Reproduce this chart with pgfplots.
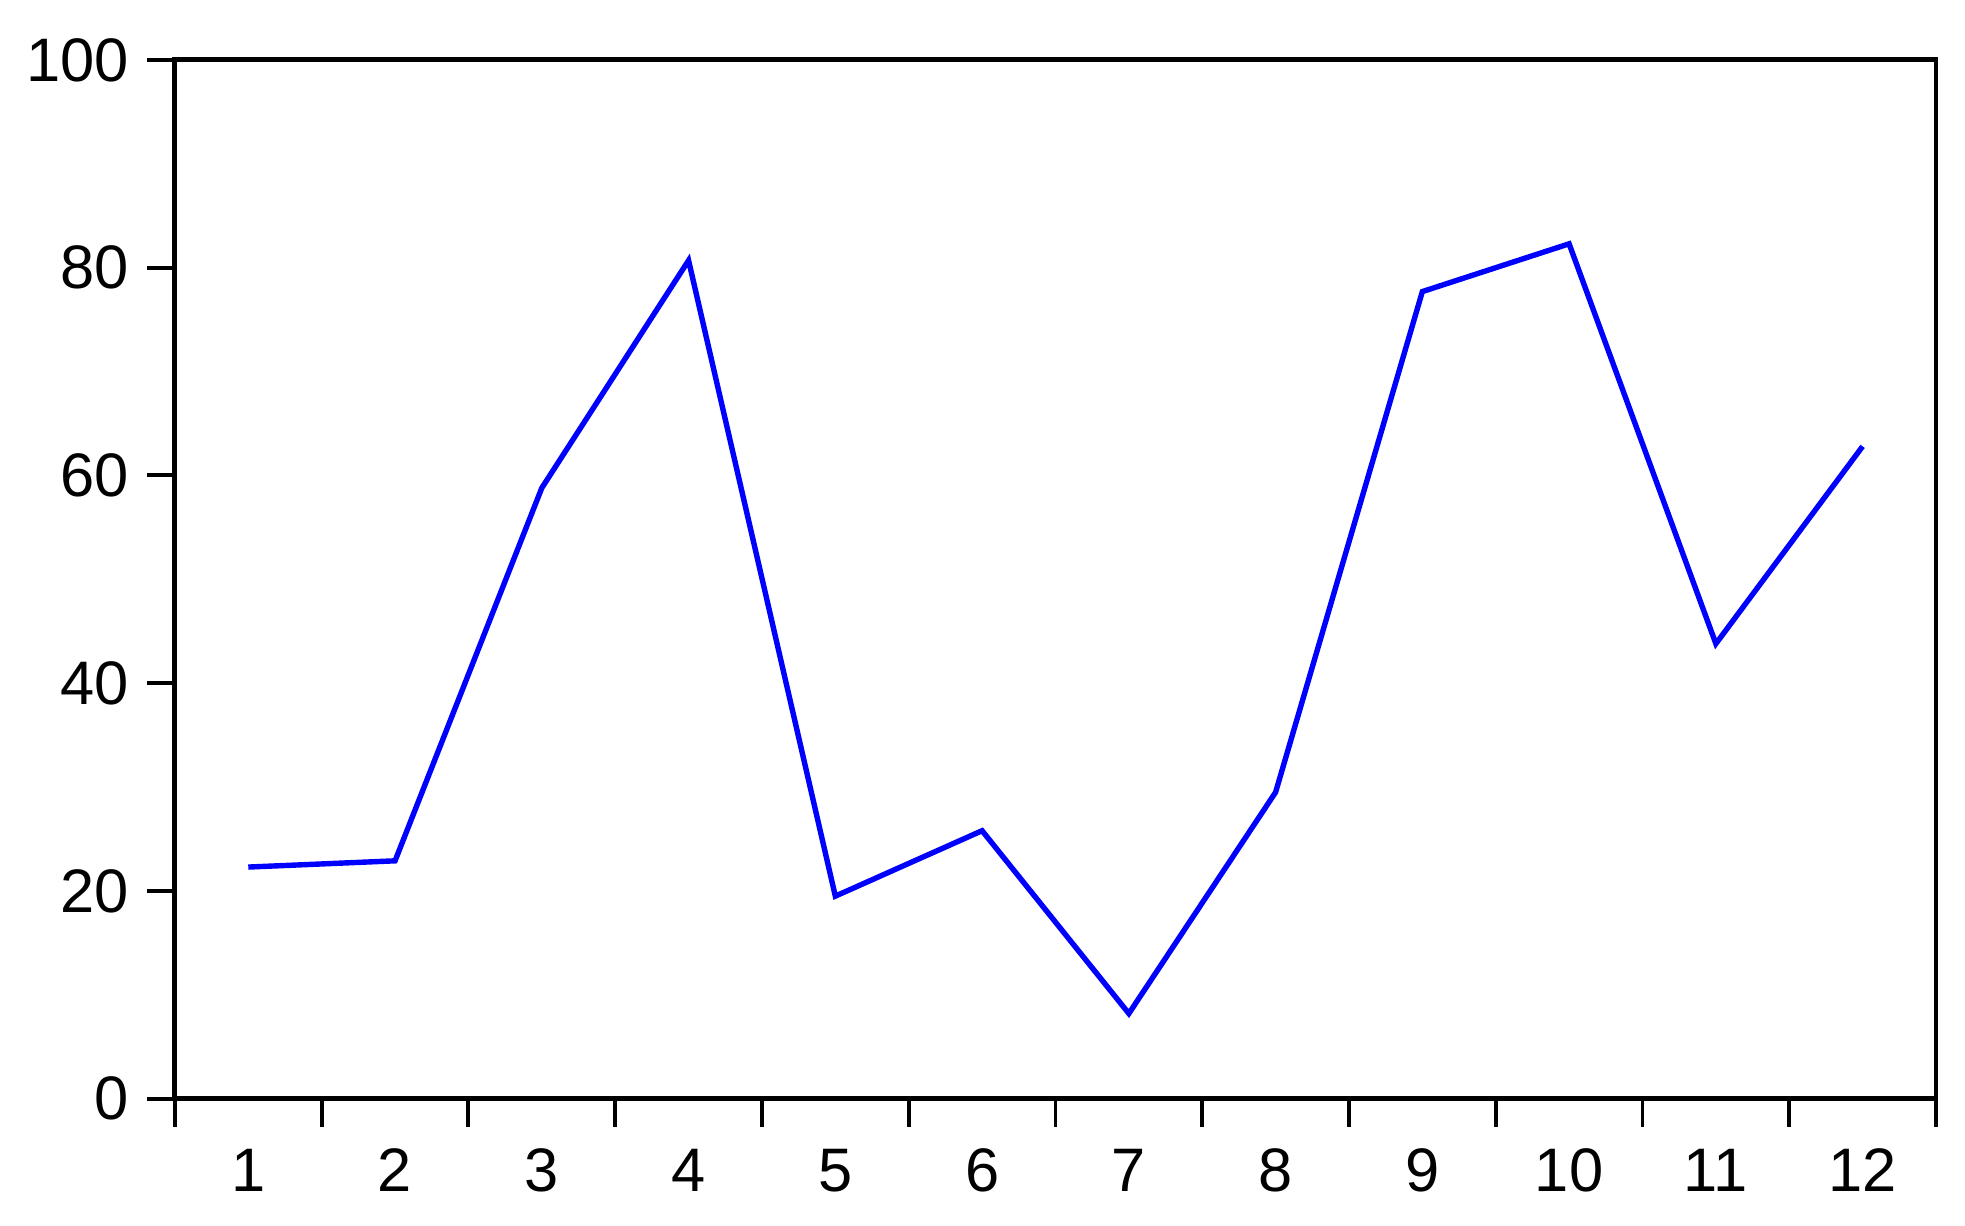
\documentclass[border=0pt]{standalone}
\usepackage{fontspec}
\setmainfont{Liberation Sans}
\usepackage{pgfplots}
\pgfplotsset{compat=1.18}
\begin{document}
\begin{tikzpicture}
\begin{axis}[
    name=ax,
    width=358.4pt, height=211.4pt,
    scale only axis,
    xmin=0.5, xmax=12.5,
    ymin=0, ymax=100,
    xtick={0.5,1.5,...,12.5},
    x tick label as interval,
    xticklabels={1,2,3,4,5,6,7,8,9,10,11,12},
    ytick={0,20,...,100},
    tick pos=left,
    tick align=outside,
    major tick length=5.7pt,
    axis line style={line width=1pt},
    every tick/.style={black, line width=0.8pt},
    tick label style={font=\fontsize{12.5}{14}\selectfont},
    /pgf/number format/assume math mode=true,
    yticklabel style={xshift=-0.2pt},
    xticklabel style={yshift=-1pt},
]
\addplot[blue, line width=1.1pt, mark=none] coordinates {
  (1,22.3) (2,22.9) (3,58.8) (4,80.7) (5,19.5) (6,25.8)
  (7,8.2) (8,29.5) (9,77.7) (10,82.3) (11,43.8) (12,62.8)
};
\end{axis}
\path (ax.south west) ++(-35.6pt,-25.9pt);
\path (ax.north east) ++(5.9pt,12.2pt);
\end{tikzpicture}
\end{document}
